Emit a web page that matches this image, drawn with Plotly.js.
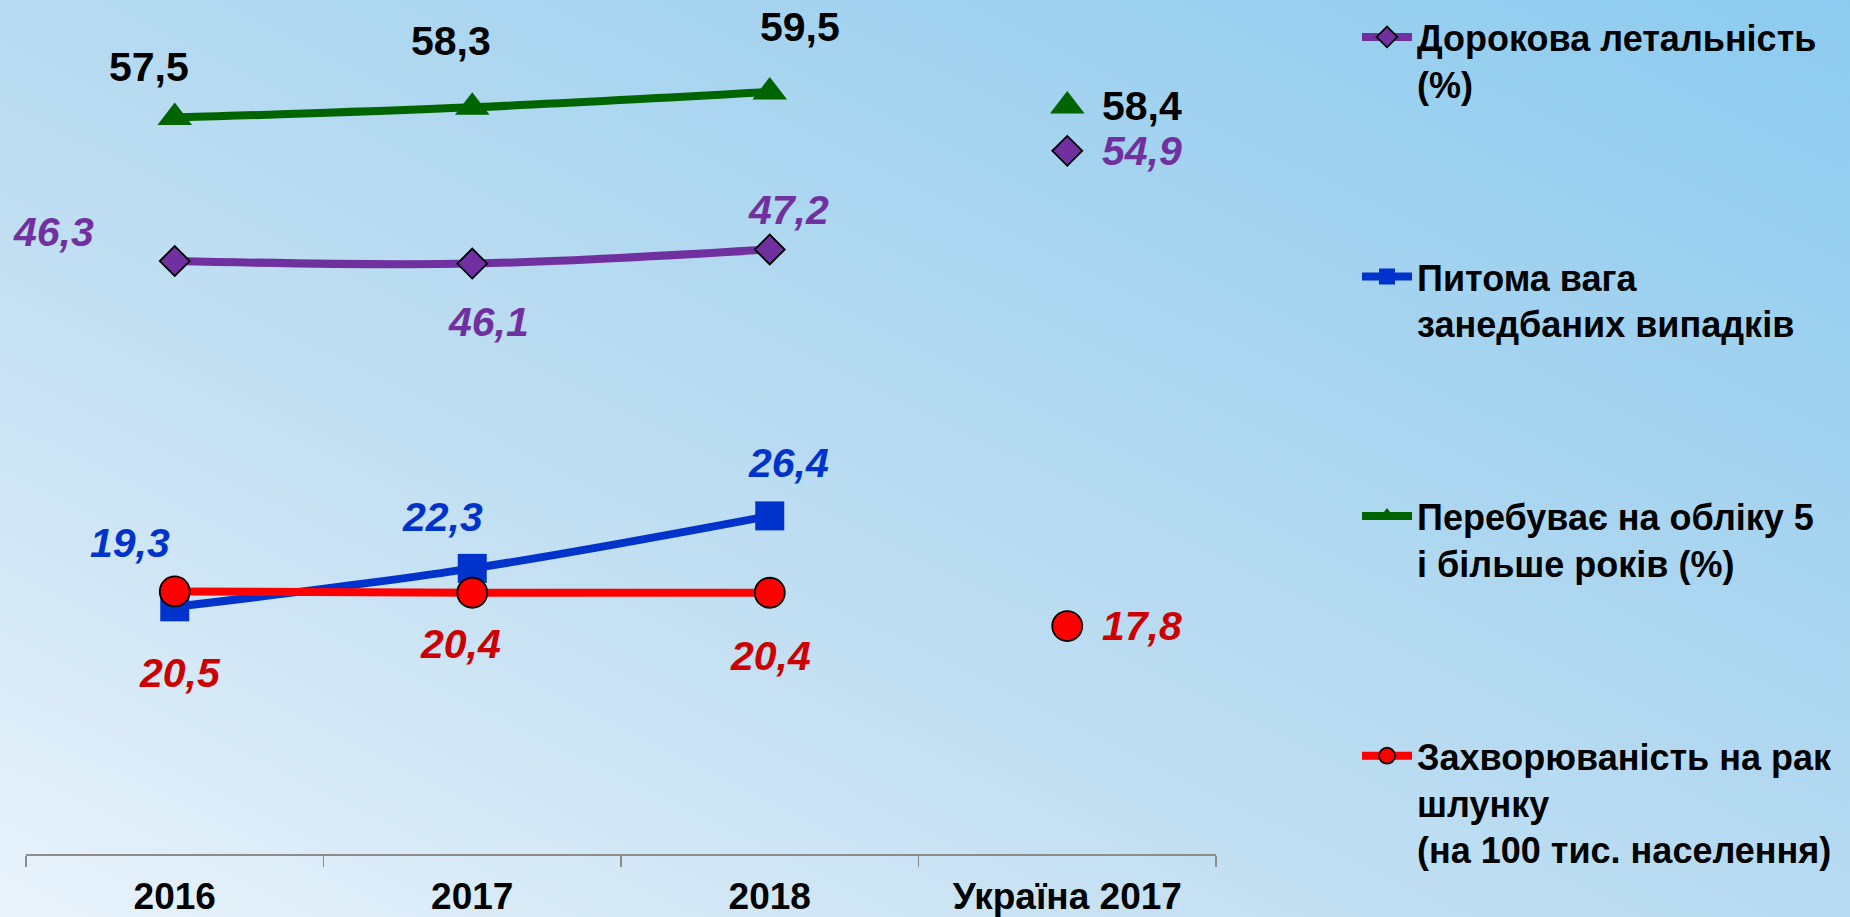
<!DOCTYPE html>
<html>
<head>
<meta charset="utf-8">
<script src="https://cdn.plot.ly/plotly-3.0.1.min.js"></script>
<style>
  html, body { margin:0; padding:0; width:1850px; height:917px; overflow:hidden; }
  body { background: linear-gradient(to top right, #e9f3fb 0%, #c6e1f3 32%, #acd6f0 62%, #8ccbef 100%); }
  #chart { width:1850px; height:917px; }
</style>
</head>
<body>
<div id="chart"></div>
<script>
// ---- data ----
const categories = ['2016', '2017', '2018', 'Україна 2017'];
const yearCategories = ['2016', '2017', '2018'];
const ukraineCategory = 'Україна 2017';

const lethalityName = 'Дорокова летальність<br>(%)';
const lethality = [46.3, 46.1, 47.2];
const lethalityUkraine = 54.9;

const neglectedName = 'Питома вага<br>занедбаних випадків';
const neglected = [19.3, 22.3, 26.4];

const fiveYearsName = 'Перебуває на обліку 5<br>і більше років (%)';
const fiveYears = [57.5, 58.3, 59.5];
const fiveYearsUkraine = 58.4;

const incidenceName = 'Захворюваність на рак<br>шлунку<br>(на 100 тис. населення)';
const incidence = [20.5, 20.4, 20.4];
const incidenceUkraine = 17.8;

// ---- styles ----
const FONT = 'Liberation Sans, Arial, sans-serif';
const series = [
  { name: lethalityName, y: lethality, ua: lethalityUkraine, color: '#7030A0', labelColor: '#7030A0', italic: true,
    symbol: 'diamond', size: 23, outline: '#000000', outlineW: 1.8,
    dx: [-121, 16, 19], dy: [29, -58, 39] },
  { name: neglectedName, y: neglected, ua: null, color: '#0033CC', labelColor: '#0033CC', italic: true,
    symbol: 'square', size: 29, outline: '#0033CC', outlineW: 0,
    dx: [-45, -30, 19], dy: [64, 51, 53] },
  { name: fiveYearsName, y: fiveYears, ua: fiveYearsUkraine, color: '#006400', labelColor: '#000000', italic: false,
    symbol: 'triangle-up', size: 30, outline: '#006400', outlineW: 0,
    dx: [-26, -21, 30], dy: [51, 66, 65] },
  { name: incidenceName, y: incidence, ua: incidenceUkraine, color: '#FF0000', labelColor: '#CC0000', italic: true,
    symbol: 'circle', size: 30, outline: '#000000', outlineW: 1.8,
    dx: [5, -12, 1], dy: [-82, -51, -63] }
];

const fmt = v => v.toFixed(1).replace('.', ',');
const catIndex = c => categories.indexOf(c);

const traces = [];
const annotations = [];
series.forEach((s, i) => {
  traces.push({
    type: 'scatter', mode: 'lines+markers', x: yearCategories, y: s.y, name: s.name,
    legendgroup: 'g' + i, cliponaxis: false,
    line: { color: s.color, width: 8, shape: 'spline', smoothing: 1 },
    marker: { symbol: s.symbol, size: s.size, color: s.color, line: { color: s.outline, width: s.outlineW } },
    hoverinfo: 'skip'
  });
  s.y.forEach((v, k) => {
    annotations.push({
      x: catIndex(yearCategories[k]), y: v, xref: 'x', yref: 'y', text: fmt(v), showarrow: false,
      xshift: s.dx[k], yshift: s.dy[k], xanchor: 'center', yanchor: 'middle',
      font: { family: FONT, size: 41, color: s.labelColor, weight: 'bold', style: s.italic ? 'italic' : 'normal' }
    });
  });
});
series.forEach((s, i) => {
  if (s.ua === null) return;
  traces.push({
    type: 'scatter', mode: 'markers', x: [ukraineCategory], y: [s.ua], showlegend: false,
    legendgroup: 'g' + i, cliponaxis: false,
    marker: { symbol: s.symbol, size: s.size, color: s.color, line: { color: s.outline, width: s.outlineW } },
    hoverinfo: 'skip'
  });
  annotations.push({
    x: catIndex(ukraineCategory), y: s.ua, xref: 'x', yref: 'y', text: fmt(s.ua), showarrow: false,
    xshift: 33, yshift: 0, xanchor: 'left', yanchor: 'middle',
    font: { family: FONT, size: 41, color: s.labelColor, weight: 'bold', style: s.italic ? 'italic' : 'normal' }
  });
});

const layout = {
  width: 1850, height: 917,
  margin: { l: 26, r: 634, t: 0, b: 63, pad: 0 },
  paper_bgcolor: 'rgba(0,0,0,0)', plot_bgcolor: 'rgba(0,0,0,0)',
  font: { family: FONT, color: '#000000' },
  showlegend: true,
  legend: {
    x: 1.1185, xanchor: 'left', y: 0.9918, yanchor: 'top',
    traceorder: 'grouped', tracegroupgap: 143, valign: 'top', itemwidth: 50,
    maxheight: 917,
    bgcolor: 'rgba(0,0,0,0)', borderwidth: 0,
    font: { family: FONT, size: 36, color: '#000000', weight: 'bold' }
  },
  xaxis: {
    type: 'category', categoryorder: 'array', categoryarray: categories,
    range: [-0.5, 3.5], fixedrange: true,
    showline: true, linecolor: '#8c8c8c', linewidth: 2,
    ticks: 'outside', ticklen: 11, tickwidth: 1.5, tickcolor: '#8c8c8c', tickson: 'boundaries',
    showgrid: false, zeroline: false, ticklabelstandoff: 9,
    tickfont: { family: FONT, size: 37, color: '#000000', weight: 'bold' }
  },
  yaxis: { visible: false, range: [0, 66.68], fixedrange: true, showgrid: false, zeroline: false },
  annotations: annotations
};

Plotly.newPlot('chart', traces, layout, { displayModeBar: false, staticPlot: true });
</script>
</body>
</html>
